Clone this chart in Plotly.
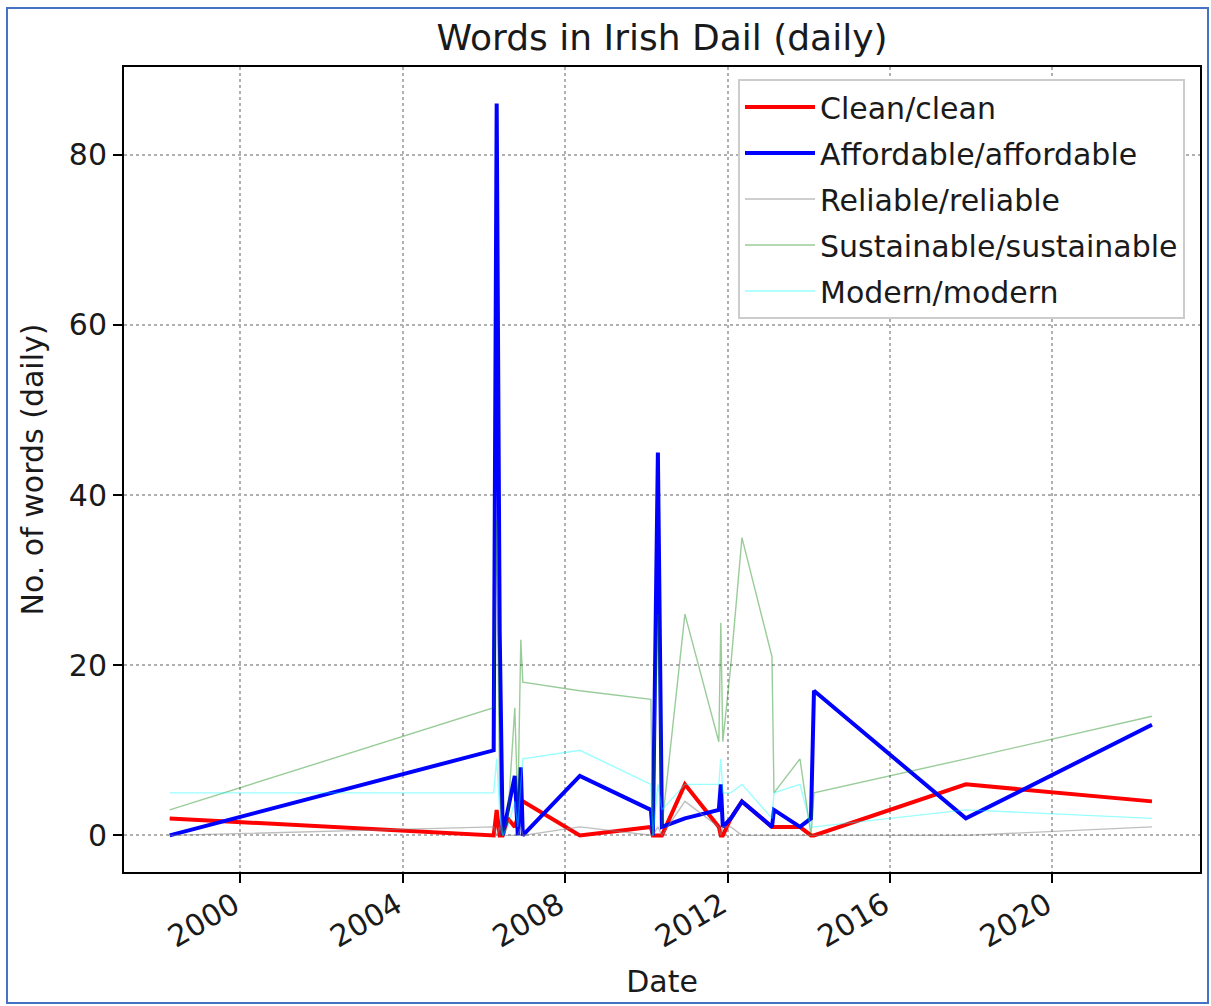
import plotly.graph_objects as go

# Sitting dates and daily word counts
dates = [
    "1998-04-06", "2006-03-29", "2006-04-25", "2006-05-22", "2006-06-18",
    "2006-08-03", "2006-10-05", "2006-11-01", "2006-11-28", "2006-12-16",
    "2008-05-12", "2010-02-10", "2010-02-28", "2010-04-14", "2010-05-20",
    "2010-12-13", "2011-10-14", "2011-11-01", "2011-11-19", "2012-01-30",
    "2012-05-09", "2013-02-03", "2013-02-21", "2013-10-13", "2014-01-20",
    "2014-02-16", "2017-11-13", "2022-06-14",
]
clean = [2, 0, 3, 0, 0, 2, 1, 2, 3, 4, 0, 1, 0, 0, 0, 6, 1, 0, 0, 2, 4, 1, 1, 1, 0, 0, 6, 4]
affordable = [0, 10, 86, 24, 0, 3, 7, 0, 8, 0, 7, 3, 0, 45, 1, 2, 3, 6, 1, 2, 4, 1, 3, 1, 2, 17, 2, 13]
reliable = [0, 1, 0, 1, 0, 0, 0, 0, 1, 0, 1, 0, 0, 1, 0, 4, 1, 0, 1, 1, 0, 0, 0, 0, 0, 0, 0, 1]
sustainable = [3, 15, 37, 5, 0, 2, 15, 3, 23, 18, 17, 16, 0, 26, 1, 26, 11, 25, 11, 20, 35, 21, 5, 9, 0, 5, 9, 14]
modern = [5, 5, 9, 3, 0, 1, 4, 1, 6, 9, 10, 6, 0, 6, 3, 6, 6, 9, 5, 5, 6, 2, 5, 6, 1, 1, 3, 2]

series_names = ["Clean/clean", "Affordable/affordable", "Reliable/reliable",
                "Sustainable/sustainable", "Modern/modern"]
series_values = [clean, affordable, reliable, sustainable, modern]
series_colors = ["#ff0000", "#0000ff", "rgba(128,128,128,0.5)",
                 "rgba(0,128,0,0.4)", "rgba(0,255,255,0.4)"]
series_widths = [4, 4, 1.4, 1.4, 1.4]

year_ticks = ["2000", "2004", "2008", "2012", "2016", "2020"]

FONT = "DejaVu Sans"
TEXT = "#1a1a1a"

fig = go.Figure()
for i, (name, vals, col, w) in enumerate(zip(series_names, series_values,
                                               series_colors, series_widths)):
    fig.add_trace(go.Scatter(
        x=dates, y=vals, mode="lines", name=name,
        line=dict(color=col, width=w),
        legendgroup=f"g{i}",
    ))

axis_common = dict(
    showline=True, mirror=True, linecolor="black", linewidth=2,
    ticks="outside", ticklen=9, tickwidth=2, tickcolor="black",
    showgrid=True, gridcolor="#b0b0b0", gridwidth=2, griddash="dot",
    zeroline=False,
    tickfont=dict(family=FONT, size=30, color=TEXT),
)

fig.update_layout(
    width=1211, height=1006,
    paper_bgcolor="white", plot_bgcolor="white",
    margin=dict(l=124, r=11, t=67, b=134, autoexpand=False),
    title=dict(text="Words in Irish Dail (daily)", x=(662 / 1211), xanchor="center",
               y=1 - 37 / 1006, yanchor="middle", yref="container",
               font=dict(family=FONT, size=36, color=TEXT)),
    xaxis=dict(
        type="date", range=["1997-02-19", "2023-08-20"],
        tickvals=[f"{y}-01-01" for y in year_ticks], ticktext=year_ticks,
        tickangle=-30, ticklabelstandoff=-7, ticklabelshift=-6,
        title=dict(text="Date", standoff=18,
                   font=dict(family=FONT, size=30, color=TEXT)),
        **axis_common,
    ),
    yaxis=dict(
        range=[-4.3, 90.3], tick0=0, dtick=20,
        title=dict(text="No. of words (daily)", standoff=16,
                   font=dict(family=FONT, size=30, color=TEXT)),
        **axis_common,
    ),
    legend=dict(
        x=(1185 - 124) / 1076, y=(872 - 79) / 805, xanchor="right", yanchor="top",
        bgcolor="white", bordercolor="#cccccc", borderwidth=2,
        font=dict(family=FONT, size=30, color=TEXT),
        traceorder="grouped", tracegroupgap=4, itemwidth=70,
    ),
    shapes=[dict(
        type="rect", xref="paper", yref="paper",
        x0=(7 - 124) / 1076, x1=(1208 - 124) / 1076,
        y0=(872 - 1003) / 805, y1=(872 - 8) / 805,
        line=dict(color="#4472c4", width=2), fillcolor="rgba(0,0,0,0)",
        layer="below",
    )],
)

fig.write_html("out.html")
